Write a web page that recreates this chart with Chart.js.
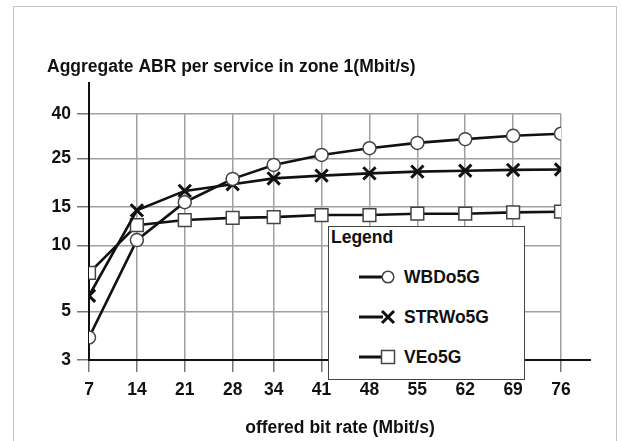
<!DOCTYPE html>
<html>
<head>
<meta charset="utf-8">
<script src="https://cdn.jsdelivr.net/npm/chart.js@4.4.1/dist/chart.umd.min.js"></script>
<style>
  html, body { margin: 0; padding: 0; background: #fff; }
  #wrap { position: relative; width: 622px; height: 441px; overflow: hidden; }
  #frame { position: absolute; left: 13px; top: 6px; width: 604px; height: 450px; border: 1.5px solid #c4c4c4; box-sizing: border-box; }
  #c { position: absolute; left: 0; top: 0; }
  #xtitle { position: absolute; top: 417px; height: 20px; line-height: 20px; white-space: nowrap; text-align: center;
            font: bold 17.5px 'Liberation Sans', Arial, sans-serif; color: #111; }
  #legend { position: absolute; left: 328px; top: 226px; width: 197px; height: 154px; box-sizing: border-box;
            border: 1.5px solid #444; background: #fff; font: bold 17.5px 'Liberation Sans', Arial, sans-serif; color: #111; }
  #legend .ttl { position: absolute; left: 2px; top: 0px; line-height: 20px; }
  #legend .row { position: absolute; left: 0; height: 20px; line-height: 20px; }
  #legend .row svg { position: absolute; left: 28px; top: 0; }
  #legend .row span { position: absolute; left: 75px; top: 0; white-space: nowrap; }
</style>
</head>
<body>
<div id="wrap">
  <div id="frame"></div>
  <canvas id="c" width="622" height="441"></canvas>
  <div id="xtitle"></div>
  <div id="legend"></div>
</div>
<script>
// ---- data ----
const xValues = [7, 14, 21, 28, 34, 41, 48, 55, 62, 69, 76];
const xTicks = [7, 14, 21, 28, 34, 41, 48, 55, 62, 69, 76];
const yTicks = [3, 5, 10, 15, 25, 40];
const seriesNames = ['WBDo5G', 'STRWo5G', 'VEo5G'];
const wbdValues = [3.8, 10.6, 15.8, 20.2, 23.4, 26.0, 27.9, 29.5, 30.7, 31.8, 32.5];
const strwValues = [5.9, 14.5, 17.8, 19.1, 20.3, 20.9, 21.4, 21.8, 22.0, 22.2, 22.3];
const veValues = [7.5, 12.4, 13.1, 13.4, 13.5, 13.8, 13.8, 14.0, 14.0, 14.2, 14.3];
const chartTitle = 'Aggregate ABR per service in zone 1(Mbit/s)';
const xTitle = 'offered bit rate (Mbit/s)';
const legendTitle = 'Legend';

const FONT = "'Liberation Sans', Arial, sans-serif";
Chart.defaults.font.family = FONT;
Chart.defaults.font.weight = 'bold';
Chart.defaults.font.size = 17.5;
Chart.defaults.color = '#111';

const pts = (vals) => xValues.map((x, i) => ({ x: x, y: vals[i] }));
const styles = [
  { pointStyle: 'circle', pointRadius: 6.5, pointBorderWidth: 1.5, pointBorderColor: '#444' },
  { pointStyle: 'crossRot', pointRadius: 8.7, pointBorderWidth: 3, pointBorderColor: '#111' },
  { pointStyle: 'rect', pointRadius: 9, pointBorderWidth: 1.5, pointBorderColor: '#444' }
];
const allValues = [wbdValues, strwValues, veValues];
const datasets = seriesNames.map((name, i) => Object.assign({
  label: name,
  data: pts(allValues[i]),
  borderColor: '#111',
  borderWidth: 2.6,
  tension: 0,
  pointBackgroundColor: '#fff',
  pointHoverRadius: 0
}, styles[i]));

const axisExt = {
  id: 'axisExt',
  afterDraw(chart) {
    const ctx = chart.ctx, a = chart.chartArea;
    ctx.save();
    ctx.strokeStyle = '#111';
    ctx.lineWidth = 2;
    ctx.beginPath();
    ctx.moveTo(a.left, a.top + 1);
    ctx.lineTo(a.left, a.top - 32);
    ctx.moveTo(a.right - 1, a.bottom);
    ctx.lineTo(a.right + 30, a.bottom);
    ctx.stroke();
    ctx.restore();
  }
};

const chart = new Chart(document.getElementById('c'), {
  type: 'line',
  data: { datasets },
  plugins: [axisExt],
  options: {
    responsive: false,
    animation: false,
    events: [],
    layout: { padding: { left: 47, right: 61, top: 0, bottom: 32 } },
    plugins: {
      legend: { display: false },
      tooltip: { enabled: false },
      title: {
        display: true, text: chartTitle, align: 'start', color: '#111',
        font: { size: 17.5, weight: 'bold' },
        padding: { top: 57, bottom: 36 }
      }
    },
    scales: {
      x: {
        type: 'linear', min: 7, max: 76, bounds: 'data',
        afterBuildTicks: (s) => { s.ticks = xTicks.map(v => ({ value: v })); },
        ticks: { padding: 8, autoSkip: false, maxRotation: 0, callback: (v) => String(v) },
        grid: { color: '#a0a0a0', lineWidth: 1.5, tickLength: 12, tickColor: '#777' },
        border: { color: '#111', width: 2 }
      },
      y: {
        type: 'logarithmic', min: 3, max: 40,
        afterBuildTicks: (s) => { s.ticks = yTicks.map(v => ({ value: v })); },
        afterFit: (s) => { s.width = 42; },
        ticks: { padding: 6, autoSkip: false, callback: (v) => String(v) },
        grid: { color: '#a0a0a0', lineWidth: 1.5, tickLength: 12, tickColor: '#777' },
        border: { color: '#111', width: 2 }
      }
    }
  }
});

// x-axis title, centred under the extended x-axis line
const xs = chart.scales.x;
const xt = document.getElementById('xtitle');
xt.textContent = xTitle;
const xc = (xs.left + xs.right + 30) / 2;
xt.style.width = '300px';
xt.style.left = (xc - 150) + 'px';

// legend
const lg = document.getElementById('legend');
const t = document.createElement('div');
t.className = 'ttl'; t.textContent = legendTitle; lg.appendChild(t);
const rowTops = [39.5, 80, 120];
const icons = [
  '<line x1="2" y1="10" x2="26" y2="10" stroke="#111" stroke-width="3"/><circle cx="31" cy="10" r="5.8" fill="#fff" stroke="#444" stroke-width="1.5"/>',
  '<line x1="2" y1="10" x2="26" y2="10" stroke="#111" stroke-width="3"/><path d="M25,4 L37,16 M37,4 L25,16" stroke="#111" stroke-width="3"/>',
  '<line x1="2" y1="10" x2="24" y2="10" stroke="#111" stroke-width="3"/><rect x="24.5" y="3.5" width="13" height="13" fill="#fff" stroke="#444" stroke-width="1.5"/>'
];
seriesNames.forEach((n, i) => {
  const r = document.createElement('div');
  r.className = 'row';
  r.style.top = rowTops[i] + 'px';
  r.innerHTML = '<svg width="40" height="20" viewBox="0 0 40 20">' + icons[i] + '</svg>';
  const sp = document.createElement('span'); sp.textContent = n; r.appendChild(sp);
  lg.appendChild(r);
});
</script>
</body>
</html>
